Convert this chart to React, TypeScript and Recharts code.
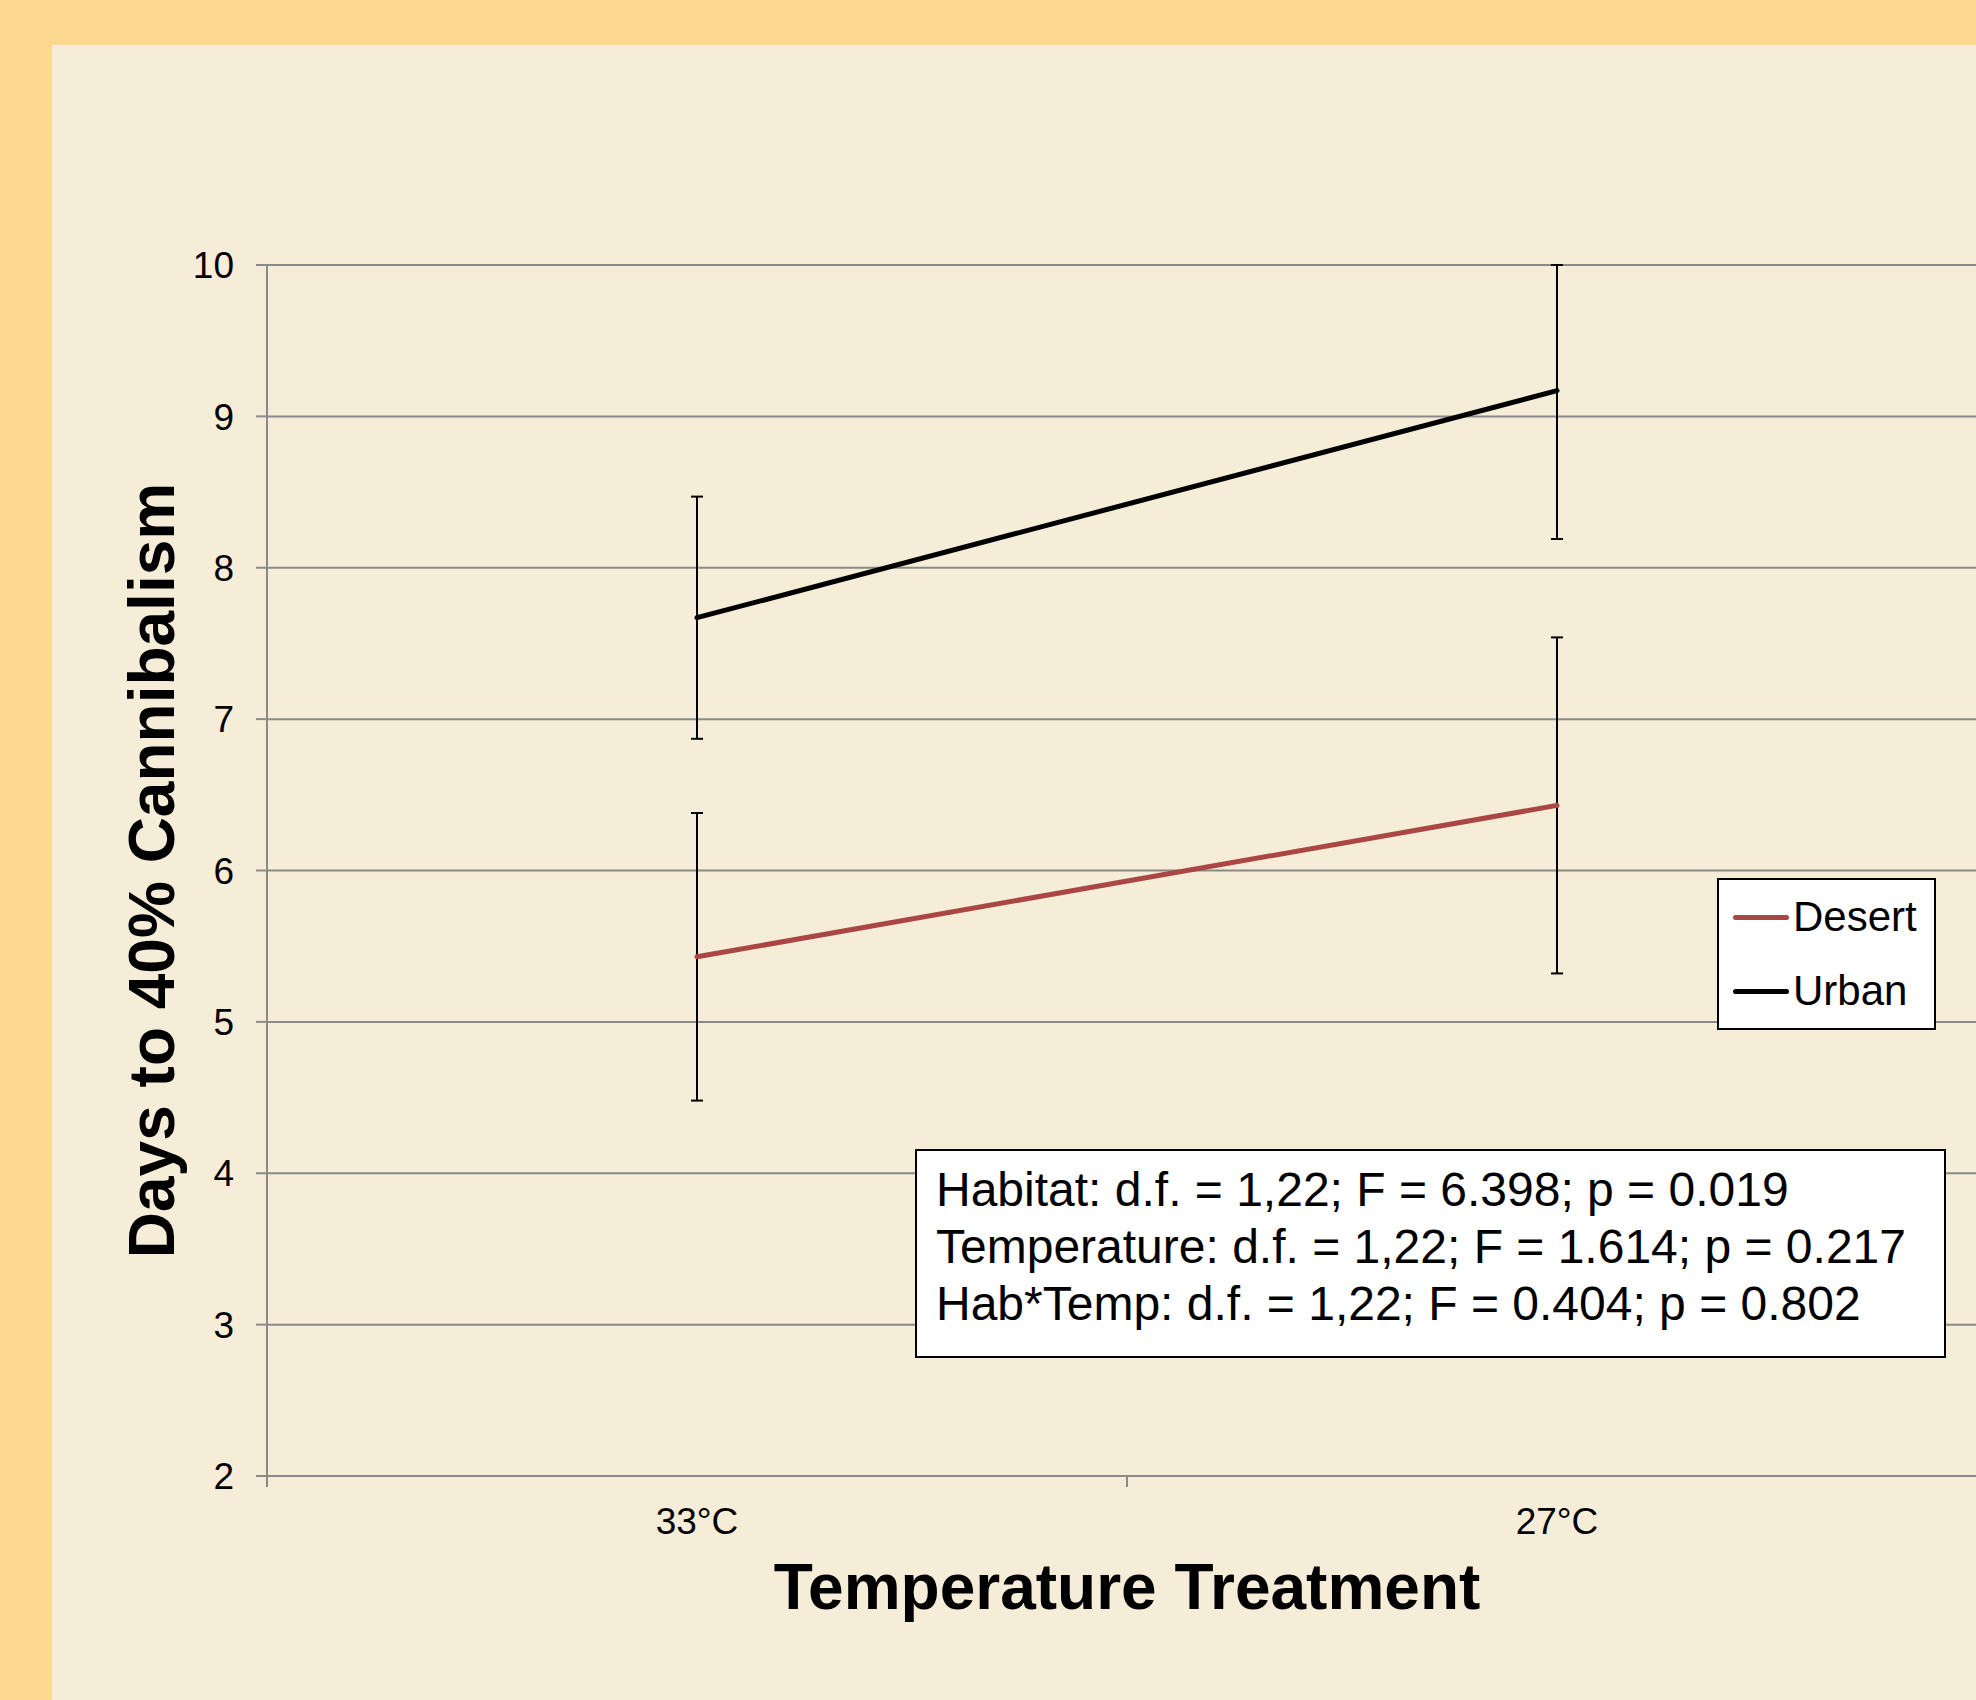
import React from 'react'
import {
  LineChart,
  Line,
  XAxis,
  YAxis,
  CartesianGrid,
  ErrorBar,
  Legend,
  Label,
} from 'recharts'

const categories = ['33°C', '27°C']
const desertMean = [5.43, 6.43]
const desertErr = [0.95, 1.11]
const urbanMean = [7.67, 9.17]
const urbanErr = [0.8, 0.98]
const yTicks = [2, 3, 4, 5, 6, 7, 8, 9, 10]
const statLines = [
  'Habitat: d.f. = 1,22; F = 6.398; p = 0.019',
  'Temperature: d.f. = 1,22; F = 1.614; p = 0.217',
  'Hab*Temp: d.f. = 1,22; F = 0.404; p = 0.802',
]

const Y_MIN = yTicks[0]
const Y_MAX = yTicks[yTicks.length - 1]

// error bars are cut off at the top of the axis, like the original
const errPair = (mean: number, err: number) => [err, Math.min(err, Y_MAX - mean)]

// each category sits in the middle of a unit band on a numeric axis
const data = categories.map((name, i) => ({
  name,
  pos: i + 0.5,
  desert: desertMean[i],
  desertErr: errPair(desertMean[i], desertErr[i]),
  urban: urbanMean[i],
  urbanErr: errPair(urbanMean[i], urbanErr[i]),
}))

// band edges (tick marks) and band centres (labels)
const xTicks = Array.from({ length: categories.length * 2 + 1 }, (_, k) => k / 2)

const FONT = '"Liberation Sans", Arial, Helvetica, sans-serif'
const GRID = '#8a8a8a'
const RED = '#AA4643'

const XTick = ({ x, y, payload }: any) => {
  const v = payload.value
  if (Number.isInteger(v)) {
    return <line x1={x} x2={x} y1={y} y2={y + 11} stroke={GRID} strokeWidth={2} />
  }
  return (
    <text x={x} y={y + 58} textAnchor='middle' fontSize={37} fill='#000' fontFamily={FONT}>
      {categories[Math.floor(v)]}
    </text>
  )
}

const XTitle = ({ viewBox }: any) => {
  const cx = viewBox.x + viewBox.width / 2
  return (
    <text x={cx} y={viewBox.y + 133} textAnchor='middle' fontSize={64} fontWeight='bold' fill='#000' fontFamily={FONT}>
      Temperature Treatment
    </text>
  )
}

const YTitle = ({ viewBox }: any) => {
  const cy = viewBox.y + viewBox.height / 2
  const bx = 174
  return (
    <text
      x={bx}
      y={cy}
      transform={`rotate(-90 ${bx} ${cy})`}
      textAnchor='middle'
      fontSize={64}
      fontWeight='bold'
      fill='#000'
      fontFamily={FONT}
    >
      Days to 40% Cannibalism
    </text>
  )
}

const LegendBox = ({ payload }: any) => (
  <div
    style={{
      width: 219,
      height: 152,
      boxSizing: 'border-box',
      background: '#fff',
      border: '2px solid #000',
      fontFamily: FONT,
    }}
  >
    {(payload || []).map((p: any) => (
      <div key={p.value} style={{ height: 74, display: 'flex', alignItems: 'center', paddingLeft: 14 }}>
        <span style={{ width: 56, height: 5, borderRadius: 3, background: p.color, display: 'inline-block' }} />
        <span style={{ fontSize: 42, lineHeight: 1, marginLeft: 4, color: '#000' }}>{p.value}</span>
      </div>
    ))}
  </div>
)

export default function App() {
  return (
    <div
      style={{
        position: 'absolute',
        left: 0,
        top: 0,
        width: 1976,
        height: 1700,
        overflow: 'hidden',
        background: '#FDD891',
        fontFamily: FONT,
      }}
    >
      <div style={{ position: 'absolute', left: 52, top: 45, right: 0, bottom: 0, background: '#F6EDD9' }} />
      <div style={{ position: 'absolute', left: 0, top: 0 }}>
        <LineChart
          width={2000}
          height={1700}
          data={data}
          margin={{ top: 265, right: 13, bottom: 124, left: 67 }}
        >
          <CartesianGrid vertical={false} stroke={GRID} strokeWidth={2} />
          <XAxis
            type='number'
            dataKey='pos'
            domain={[0, categories.length]}
            ticks={xTicks}
            interval={0}
            allowDataOverflow
            tick={<XTick />}
            tickLine={false}
            tickSize={0}
            tickMargin={0}
            axisLine={{ stroke: GRID, strokeWidth: 2 }}
            height={100}
          >
            <Label content={<XTitle />} />
          </XAxis>
          <YAxis
            type='number'
            domain={[Y_MIN, Y_MAX]}
            ticks={yTicks}
            interval={0}
            allowDataOverflow
            width={200}
            tickSize={11}
            tickMargin={22}
            axisLine={{ stroke: GRID, strokeWidth: 2 }}
            tickLine={{ stroke: GRID, strokeWidth: 2 }}
            tick={{ fill: '#000', fontSize: 37, fontFamily: FONT }}
          >
            <Label content={<YTitle />} />
          </YAxis>
          <Legend
            layout='vertical'
            align='center'
            verticalAlign='middle'
            wrapperStyle={{ left: 1717, top: 878, width: 219, height: 152 }}
            content={<LegendBox />}
          />
          <Line
            type='linear'
            dataKey='desert'
            name='Desert'
            stroke={RED}
            strokeWidth={5}
            strokeLinecap='round'
            dot={false}
            activeDot={false}
            isAnimationActive={false}
          >
            <ErrorBar dataKey='desertErr' direction='y' width={6} stroke='#000' strokeWidth={2} isAnimationActive={false} />
          </Line>
          <Line
            type='linear'
            dataKey='urban'
            name='Urban'
            stroke='#000'
            strokeWidth={5}
            strokeLinecap='round'
            dot={false}
            activeDot={false}
            isAnimationActive={false}
          >
            <ErrorBar dataKey='urbanErr' direction='y' width={6} stroke='#000' strokeWidth={2} isAnimationActive={false} />
          </Line>
        </LineChart>
      </div>
      <div
        style={{
          position: 'absolute',
          left: 915,
          top: 1149,
          width: 1031,
          height: 209,
          boxSizing: 'border-box',
          background: '#fff',
          border: '2px solid #000',
          paddingLeft: 19,
          paddingTop: 10,
          fontSize: 48,
          lineHeight: '57px',
          color: '#000',
          whiteSpace: 'nowrap',
        }}
      >
        {statLines.map((s) => (
          <div key={s}>{s}</div>
        ))}
      </div>
    </div>
  )
}
